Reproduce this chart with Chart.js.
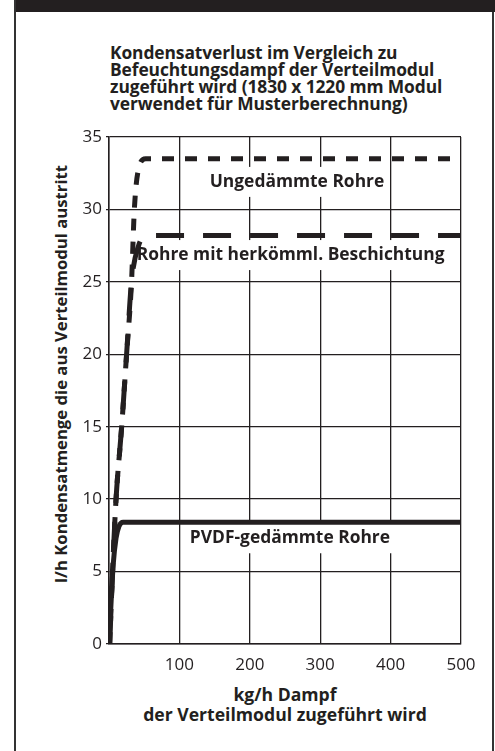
<!DOCTYPE html>
<html>
<head>
<meta charset="utf-8">
<script src="https://cdn.jsdelivr.net/npm/chart.js@4.4.1/dist/chart.umd.min.js"></script>
<style>
  html, body { margin: 0; padding: 0; background: #fff; }
  body { width: 495px; height: 751px; position: relative; overflow: hidden; font-family: "Open Sans", "Noto Sans", sans-serif; color: #231f20; }
  .header { position: absolute; left: 15px; top: 0; width: 480px; height: 12px; background: #231f20; }
  .frame-l { position: absolute; left: 14px; top: 0; width: 2px; height: 751px; background: #333; }
  .frame-r { position: absolute; left: 492px; top: 12px; width: 2px; height: 739px; background: #333; }
  .title { position: absolute; left: 110px; top: 44px; font-weight: 700; font-size: 17.4px; line-height: 17px; letter-spacing: -0.1px; white-space: nowrap; }
  .xtitle { position: absolute; left: 109px; width: 352px; top: 684px; text-align: center; font-weight: 700; font-size: 17.6px; line-height: 20px; white-space: nowrap; }
  .ytitle { position: absolute; left: 60px; top: 374px; transform: translate(-50%, -50%) rotate(-90deg); font-weight: 700; font-size: 16.7px; white-space: nowrap; }
  #wrap { position: absolute; left: 0; top: 0; width: 495px; height: 751px; }
</style>
</head>
<body>
<div class="header"></div>
<div class="frame-l"></div>
<div class="frame-r"></div>
<div class="title">Kondensatverlust im Vergleich zu<br>Befeuchtungsdampf der Verteilmodul<br>zugeführt wird (1830 x 1220 mm Modul<br>verwendet für Musterberechnung)</div>
<div class="ytitle">l/h Kondensatmenge die aus Verteilmodul austritt</div>
<div class="xtitle">kg/h Dampf<br>der Verteilmodul zugeführt wird</div>
<div id="wrap"><canvas id="c"></canvas></div>
<script>
// kg/h Dampf (x) and l/h Kondensat (y)
var ungedX = [1, 5, 10, 18, 25, 32, 36, 42, 52, 500];
var ungedY = [0, 5, 10, 15, 20, 25, 30, 32.8, 33.5, 33.5];
var beschX = [1, 5, 10, 18, 25, 32, 42, 54, 500];
var beschY = [0, 5, 10, 15, 20, 25, 27.5, 28.2, 28.2];
var pvdfX = [0, 6, 10, 14, 20, 500];
var pvdfY = [0, 5.5, 7.3, 8.1, 8.4, 8.4];

var seriesNames = ['Ungedämmte Rohre', 'Rohre mit herkömml. Beschichtung', 'PVDF-gedämmte Rohre'];
// where the series names sit (data units)
var labelX = [267, 258, 257];
var labelY = [31.9, 26.85, 7.3];

var xTicks = [0, 100, 200, 300, 400, 500];
var yTicks = [0, 5, 10, 15, 20, 25, 30, 35];

var ink = '#231f20';

function pts(xs, ys) {
  return xs.map(function(x, i) { return { x: x, y: ys[i] }; });
}

var seriesLabels = {
  id: 'seriesLabels',
  beforeDatasetsDraw: function(chart) {
    var ctx = chart.ctx;
    var sx = chart.scales.x, sy = chart.scales.y;
    ctx.save();
    ctx.font = '700 17.4px "Open Sans", "Noto Sans", sans-serif';
    ctx.textAlign = 'center';
    ctx.textBaseline = 'middle';
    seriesNames.forEach(function(name, i) {
      var px = sx.getPixelForValue(labelX[i]);
      var py = sy.getPixelForValue(labelY[i]);
      var w = ctx.measureText(name).width;
      ctx.fillStyle = '#fff';
      ctx.fillRect(px - w / 2 - 4, py - 15, w + 8, 30);
      ctx.fillStyle = ink;
      ctx.fillText(name, px, py);
    });
    ctx.restore();
  }
};

new Chart(document.getElementById('c'), {
  type: 'line',
  data: {
    datasets: [
      { label: seriesNames[0], data: pts(ungedX, ungedY), borderColor: ink, borderWidth: 5, borderDash: [12, 11], borderCapStyle: 'butt' },
      { label: seriesNames[1], data: pts(beschX, beschY), borderColor: ink, borderWidth: 5, borderDash: [28, 19], borderCapStyle: 'butt' },
      { label: seriesNames[2], data: pts(pvdfX, pvdfY), borderColor: ink, borderWidth: 5 }
    ]
  },
  options: {
    responsive: true,
    maintainAspectRatio: false,
    animation: false,
    cubicInterpolationMode: 'monotone',
    elements: { point: { radius: 0 } },
    layout: { padding: { top: 137, right: 34, bottom: 0, left: 0 } },
    plugins: { legend: { display: false }, tooltip: { enabled: false } },
    scales: {
      x: {
        type: 'linear', min: 0, max: 500,
        afterBuildTicks: function(s) { s.ticks = xTicks.map(function(v) { return { value: v }; }); },
        afterFit: function(s) { s.height = 107; },
        grid: { color: ink, lineWidth: 1.3, drawTicks: false },
        border: { color: ink, width: 1.5 },
        ticks: { padding: 11, color: ink, font: { family: '"Open Sans", sans-serif', size: 17 }, maxRotation: 0,
          callback: function(v) { return v === 0 ? '' : v; } }
      },
      y: {
        type: 'linear', min: 0, max: 35,
        afterBuildTicks: function(s) { s.ticks = yTicks.map(function(v) { return { value: v }; }); },
        afterFit: function(s) { s.width = 109; },
        grid: { color: ink, lineWidth: 1.3, tickLength: 3 },
        border: { color: ink, width: 1.5 },
        ticks: { padding: 4, color: ink, font: { family: '"Open Sans", sans-serif', size: 17 } }
      }
    }
  },
  plugins: [seriesLabels]
});
</script>
</body>
</html>
